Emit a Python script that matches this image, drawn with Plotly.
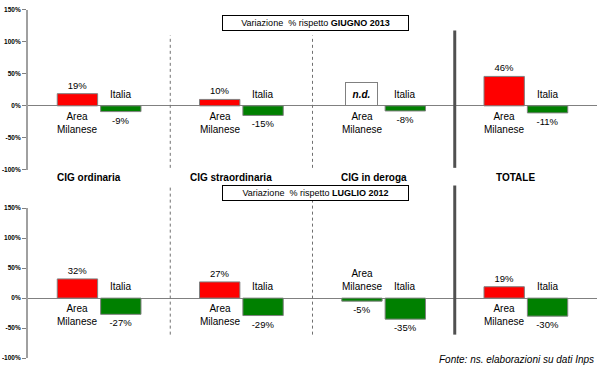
import plotly.graph_objects as go

# ---- data ----
categories = ["CIG ordinaria", "CIG straordinaria", "CIG in deroga", "TOTALE"]
series_names = ["Area<br>Milanese", "Italia"]
giugno_area = [19, 10, None, 46]      # None = n.d.
giugno_italia = [-9, -15, -8, -11]
luglio_area = [32, 27, -5, 19]
luglio_italia = [-27, -29, -35, -30]
tick_vals = [-100, -50, 0, 50, 100, 150]
tick_text = ["-100%", "-50%", "0%", "50%", "100%", "150%"]
box_top = "Variazione  % rispetto <b>GIUGNO 2013</b>"
box_bottom = "Variazione  % rispetto <b>LUGLIO 2012</b>"
source_text = "<i>Fonte: ns. elaborazioni su dati Inps</i>"

W, H = 600, 370
FONT = "Arial, Liberation Sans, sans-serif"
RED, GREEN = "#FF0000", "#008000"
BARGAP, GROUPGAP = 0.39, 0.07
OFF = (1 - BARGAP) / 4

def py(px):  # pixel from top -> paper
    return 1 - px / H

def colors(vals):
    return [RED if (v is not None and v >= 0) else GREEN for v in vals]

def labels(vals):
    return [("" if v is None else f"{v}%") for v in vals]

xs = list(range(len(categories)))
fig = go.Figure()

panels = [
    ("x", "y", giugno_area, giugno_italia),
    ("x2", "y2", luglio_area, luglio_italia),
]
for xa, ya, a_vals, i_vals in panels:
    for name, vals in zip(series_names, [a_vals, i_vals]):
        fig.add_trace(go.Bar(
            x=xs, y=vals, name=name, xaxis=xa, yaxis=ya,
            marker=dict(color=colors(vals), line=dict(color="#808080", width=1)),
            text=labels(vals), textposition="outside", cliponaxis=False,
            textfont=dict(family=FONT, size=9.5, color="black"),
            showlegend=False, hoverinfo="skip",
        ))

annotations = []
shapes = []
for xa, ya, a_vals, i_vals in panels:
    for k, (name, vals) in enumerate(zip(series_names, [a_vals, i_vals])):
        sign = -1 if k == 0 else 1
        for i, v in enumerate(vals):
            xpos = i + sign * OFF
            below = (v is None) or (v >= 0)
            annotations.append(dict(
                x=xpos, y=0, xref=xa, yref=ya, text=name, showarrow=False,
                yanchor="top" if below else "bottom",
                yshift=-3 if below else 4,
                font=dict(family=FONT, size=10, color="black"),
            ))
            if v is None:
                annotations.append(dict(
                    x=xpos, y=0, xref=xa, yref=ya, text="<b><i>n.d.</i></b>",
                    showarrow=False, yanchor="bottom", width=29, height=20,
                    bgcolor="white", bordercolor="#808080", borderwidth=1, borderpad=1,
                    font=dict(family=FONT, size=10, color="black"),
                ))

# dividers between categories
for xa, top_d, top_s, bot in [("x", 32, 27, 167), ("x2", 185, 185, 337)]:
    for b in [0.5, 1.5]:
        shapes.append(dict(type="line", xref=xa, yref="paper", x0=b, x1=b,
                           y0=py(bot), y1=py(top_d),
                           line=dict(color="#707070", width=1, dash="dot")))
    shapes.append(dict(type="line", xref=xa, yref="paper", x0=2.5, x1=2.5,
                       y0=py(bot), y1=py(top_s),
                       line=dict(color="#505050", width=3)))

# category titles
for i, c in enumerate(categories):
    annotations.append(dict(x=i, y=py(177), xref="x", yref="paper", text=f"<b>{c}</b>",
                            showarrow=False, xshift=-10,
                            font=dict(family=FONT, size=10, color="black")))

# header boxes
for txt, cy in [(box_top, 11.5), (box_bottom, 193)]:
    annotations.append(dict(x=315.5 / W, y=py(cy), xref="paper", yref="paper", text=txt,
                            showarrow=False, width=183, height=12, borderpad=1,
                            bordercolor="black", borderwidth=1, bgcolor="white",
                            font=dict(family=FONT, size=9, color="black")))

annotations.append(dict(x=596 / W, y=py(362), xref="paper", yref="paper", text=source_text,
                        showarrow=False, xanchor="right", yanchor="middle",
                        font=dict(family=FONT, size=10, color="black")))

yax = dict(range=[-100, 150], tickvals=tick_vals, ticktext=tick_text,
           showgrid=False, zeroline=True, zerolinecolor="#808080", zerolinewidth=1,
           showline=True, linecolor="#A0A0A0", linewidth=2,
           ticks="outside", ticklen=4, tickcolor="#808080", tickwidth=1,
           tickfont=dict(family=FONT, size=6.5, color="black", weight="bold"),
           fixedrange=True)
xax = dict(range=[-0.5, 3.5], domain=[28 / W, 597 / W], showticklabels=False,
           showgrid=False, zeroline=False, showline=False, ticks="", fixedrange=True)

fig.update_layout(
    width=W, height=H, margin=dict(l=0, r=0, t=0, b=0),
    paper_bgcolor="white", plot_bgcolor="white",
    barmode="group", bargap=BARGAP, bargroupgap=GROUPGAP,
    xaxis=dict(xax, anchor="y"),
    xaxis2=dict(xax, anchor="y2"),
    yaxis=dict(yax, domain=[py(169), py(6)], anchor="x"),
    yaxis2=dict(yax, domain=[py(361), py(208)], anchor="x2"),
    annotations=annotations, shapes=shapes,
    font=dict(family=FONT),
)

fig.write_html(
    "out.html",
    config={"displayModeBar": False, "staticPlot": True},
    post_script="document.body.style.margin='0';document.body.style.overflow='hidden';",
)
